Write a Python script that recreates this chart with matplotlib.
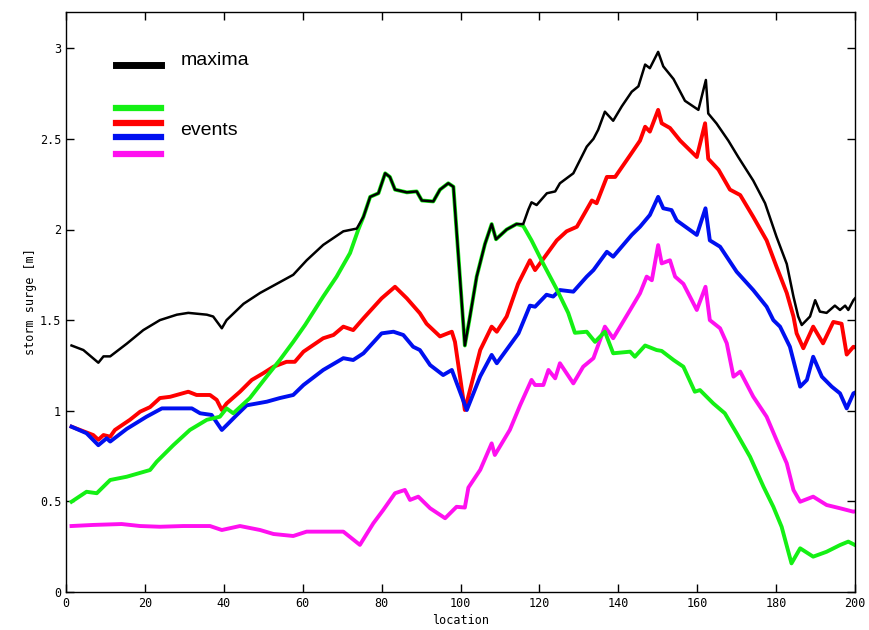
#!/usr/bin/env python

import numpy as np
import matplotlib.pyplot as plt
from matplotlib.lines import Line2D

plt.rcParams["font.family"] = "DejaVu Sans Mono"
plt.rcParams["font.size"] = 8

# maxima over all events
max_x = [1.4, 4.4, 8.2, 9.5, 11.2, 15.4, 19.6, 23.8, 28.1, 31, 35.7, 37.3, 39.5, 40.7, 45, 49.2,
         53.4, 57.6, 61, 65.2, 70.3, 73.7, 75.4, 77.1, 79.2, 80.9, 82.1, 83.4, 86.4, 88.9, 90.2,
         93.1, 94.8, 96.9, 98.2, 101.1, 102.4, 104.1, 106.2, 107.9, 109, 111.7, 114.2, 115.9,
         117.2, 118, 119.3, 121.9, 124, 125.2, 128.6, 132, 133.7, 134.9, 136.6, 138.7, 140.9,
         143.4, 145.1, 146.8, 148, 150.1, 151.4, 154, 156.9, 160.3, 162.2, 162.8, 164.9, 167.9,
         170.4, 174.2, 177.2, 180.1, 182.7, 184.4, 185.6, 186.5, 188.6, 189.9, 191.1, 192.8,
         194.9, 196.2, 197.5, 198.3, 199.6, 200]
max_y = [1.36, 1.335, 1.265, 1.30, 1.30, 1.37, 1.445, 1.50, 1.53, 1.54, 1.53, 1.52, 1.455, 1.50,
         1.59, 1.65, 1.70, 1.75, 1.83, 1.915, 1.99, 2.005, 2.07, 2.18, 2.20, 2.31, 2.29, 2.22,
         2.205, 2.21, 2.16, 2.155, 2.22, 2.255, 2.236, 1.36, 1.52, 1.74, 1.92, 2.03, 1.946, 2.00,
         2.03, 2.03, 2.11, 2.15, 2.135, 2.20, 2.21, 2.255, 2.31, 2.457, 2.50, 2.55, 2.65, 2.60,
         2.68, 2.76, 2.79, 2.91, 2.89, 2.98, 2.90, 2.83, 2.71, 2.66, 2.825, 2.64, 2.585, 2.49,
         2.40, 2.27, 2.145, 1.96, 1.81, 1.63, 1.52, 1.473, 1.52, 1.61, 1.547, 1.54, 1.58, 1.556,
         1.58, 1.556, 1.61, 1.62]

# event 1 (green)
ev1_x = [1.4, 5.2, 7.8, 11.2, 15.4, 21.3, 23, 27.2, 31.4, 35.7, 39, 40.7, 42.4, 46.6, 50.9, 54.2,
         57.6, 60.6, 65.2, 68.6, 72, 74.1, 75.4, 77.1, 79.2, 80.9, 82.1, 83.4, 86.4, 88.9, 90.2,
         93.1, 94.8, 96.9, 98.2, 101.1, 102.4, 104.1, 106.2, 107.9, 109, 111.7, 114.2, 115.9,
         118, 121, 124.4, 127.3, 129, 132, 134.1, 136.6, 138.7, 143, 144.2, 146.8, 149.7, 151,
         154, 156.5, 159.4, 160.7, 164.1, 167, 170, 173.4, 176.8, 179.3, 181.4, 183.9, 186.1,
         189.4, 192.8, 196.2, 198.3, 200]
ev1_y = [0.498, 0.553, 0.545, 0.618, 0.636, 0.673, 0.719, 0.81, 0.894, 0.95, 0.967, 1.013, 0.986,
         1.07, 1.19, 1.28, 1.38, 1.473, 1.63, 1.74, 1.87, 2.0, 2.07, 2.18, 2.20, 2.31, 2.29, 2.22,
         2.205, 2.21, 2.16, 2.155, 2.22, 2.255, 2.236, 1.36, 1.52, 1.74, 1.92, 2.03, 1.946, 2.00,
         2.03, 2.02, 1.94, 1.81, 1.67, 1.54, 1.43, 1.436, 1.38, 1.436, 1.317, 1.326, 1.298, 1.36,
         1.335, 1.33, 1.28, 1.243, 1.105, 1.114, 1.04, 0.986, 0.876, 0.746, 0.581, 0.47, 0.36,
         0.158, 0.241, 0.195, 0.222, 0.259, 0.278, 0.259]

# event 2 (red)
ev2_x = [1.4, 6.9, 8.2, 9.5, 11.2, 12.4, 16.2, 18.8, 21.3, 23.8, 26.4, 31, 33.1, 36.5, 38.2, 39.5,
         40.7, 44.1, 47.1, 50, 52.6, 55.9, 58, 60.2, 65.2, 67.8, 70.3, 72.8, 75.4, 80, 83.4, 86.4,
         89.7, 91.4, 94.8, 97.8, 98.6, 101.1, 105, 107.9, 109.2, 111.7, 114.6, 117.6, 118.9,
         121.4, 124.4, 126.9, 129.5, 133.3, 134.5, 137.1, 139.2, 143, 145.5, 146.8, 148, 150.1,
         151, 153.1, 155.7, 159.9, 162, 162.8, 165.4, 168.3, 170.9, 174.2, 177.6, 180.1, 182.7,
         184.4, 185.2, 186.9, 189.4, 191.9, 194.5, 196.6, 197.9, 199.6, 200]
ev2_y = [0.912, 0.866, 0.84, 0.866, 0.857, 0.894, 0.95, 0.995, 1.02, 1.07, 1.077, 1.105, 1.087,
         1.087, 1.06, 1.004, 1.04, 1.105, 1.17, 1.207, 1.243, 1.27, 1.27, 1.326, 1.40, 1.418,
         1.464, 1.445, 1.51, 1.62, 1.684, 1.62, 1.538, 1.48, 1.41, 1.436, 1.38, 1.004, 1.335,
         1.464, 1.436, 1.52, 1.70, 1.83, 1.776, 1.85, 1.94, 1.99, 2.015, 2.16, 2.145, 2.29, 2.29,
         2.41, 2.49, 2.567, 2.54, 2.66, 2.586, 2.56, 2.49, 2.40, 2.586, 2.39, 2.33, 2.22, 2.19,
         2.07, 1.94, 1.795, 1.65, 1.52, 1.427, 1.345, 1.464, 1.372, 1.49, 1.48, 1.31, 1.353, 1.35]

# event 3 (blue)
ev3_x = [1.4, 5.2, 8.2, 10.3, 11.2, 15.4, 20.4, 24.3, 28.9, 31.9, 34, 36.9, 39.5, 40.7, 43.3,
         45.8, 50.9, 54.2, 57.6, 60.2, 65.2, 70.3, 72.8, 75.4, 80, 83, 85.5, 88, 89.7, 92.3, 95.6,
         97.8, 101.6, 105, 107.9, 109.2, 114.7, 117.6, 118.9, 121.8, 123.5, 125.2, 128.6, 132,
         133.7, 137.1, 138.7, 143.4, 145.5, 148, 150.1, 151.4, 153.5, 154.8, 159.9, 162.1, 163.2,
         165.8, 170, 174.2, 177.6, 179.3, 181, 183.5, 184.8, 186.1, 187.8, 189.4, 191.6, 194.1,
         196.2, 197.9, 199.6, 200]
ev3_y = [0.912, 0.876, 0.81, 0.848, 0.83, 0.90, 0.967, 1.013, 1.013, 1.013, 0.986, 0.977, 0.894,
         0.92, 0.977, 1.03, 1.05, 1.07, 1.087, 1.142, 1.225, 1.29, 1.28, 1.317, 1.427, 1.436,
         1.418, 1.353, 1.335, 1.252, 1.197, 1.225, 1.004, 1.19, 1.308, 1.262, 1.427, 1.58, 1.574,
         1.64, 1.63, 1.666, 1.657, 1.74, 1.776, 1.877, 1.85, 1.97, 2.015, 2.08, 2.18, 2.117,
         2.107, 2.05, 1.97, 2.117, 1.94, 1.905, 1.767, 1.666, 1.574, 1.50, 1.464, 1.353, 1.243,
         1.133, 1.17, 1.298, 1.188, 1.133, 1.096, 1.013, 1.096, 1.10]

# event 4 (magenta)
ev4_x = [1.4, 6.9, 14.1, 18.8, 23.8, 29.7, 36.5, 39.5, 44.1, 49.2, 52.6, 57.6, 61, 66.1, 70.3,
         74.5, 77.9, 80.4, 83.4, 85.9, 87.2, 89.3, 92.3, 96.1, 99, 101.1, 102, 105, 107.9, 108.7,
         112.5, 115.1, 118, 118.9, 121, 122.3, 124, 125.2, 128.6, 131.1, 133.7, 136.6, 138.7,
         143, 145.5, 147.2, 148.5, 150.1, 151, 153.1, 154.4, 156.5, 159.9, 162.1, 163.2, 165.8,
         167.5, 169.2, 170.9, 174.2, 177.6, 180.1, 182.7, 184.4, 186.1, 189.4, 192.8, 196.2,
         199.6, 200]
ev4_y = [0.364, 0.37, 0.375, 0.364, 0.36, 0.364, 0.364, 0.342, 0.364, 0.342, 0.32, 0.309, 0.333,
         0.333, 0.333, 0.26, 0.379, 0.452, 0.545, 0.563, 0.508, 0.526, 0.462, 0.407, 0.47, 0.466,
         0.576, 0.674, 0.82, 0.756, 0.894, 1.03, 1.17, 1.142, 1.142, 1.225, 1.179, 1.262, 1.151,
         1.243, 1.29, 1.464, 1.40, 1.556, 1.648, 1.74, 1.72, 1.914, 1.813, 1.83, 1.74, 1.70,
         1.556, 1.684, 1.50, 1.455, 1.372, 1.188, 1.216, 1.078, 0.967, 0.839, 0.71, 0.563, 0.498,
         0.526, 0.48, 0.462, 0.443, 0.445]

GREEN = "#14f014"
RED = "#ff0000"
BLUE = "#0010f0"
MAGENTA = "#ff10f0"

fig = plt.figure(figsize=(8.7, 6.3), dpi=100)
ax = fig.add_axes([66/870, 38/630, 789/870, 580/630])

ax.plot(ev2_x, ev2_y, color=RED, lw=2.8)
ax.plot(ev3_x, ev3_y, color=BLUE, lw=2.8)
ax.plot(ev4_x, ev4_y, color=MAGENTA, lw=2.8)
ax.plot(ev1_x, ev1_y, color=GREEN, lw=2.8)
ax.plot(max_x, max_y, color="black", lw=1.8)

# hand-made legend like the original
tr = ax.transAxes
ax.add_line(Line2D([0.063, 0.120], [0.909, 0.909], transform=tr, color="black", lw=5))
for yy, c in zip([0.834, 0.809, 0.784, 0.755], [GREEN, RED, BLUE, MAGENTA]):
    ax.add_line(Line2D([0.063, 0.120], [yy, yy], transform=tr, color=c, lw=4.5))
ax.text(0.145, 0.917, "maxima", transform=tr, fontsize=14, family="Liberation Sans", va="center")
ax.text(0.145, 0.795, "events", transform=tr, fontsize=14, family="Liberation Sans", va="center")

ax.set_xlim(0, 200)
ax.set_ylim(0, 3.2)
ax.set_xticks(np.arange(0, 201, 20))
ax.set_yticks(np.arange(0, 3.01, 0.5))
ax.set_yticklabels(["0", "0.5", "1", "1.5", "2", "2.5", "3"])
ax.tick_params(direction="in", length=6, width=1, top=True, right=True, labelsize=8.5)
for s in ax.spines.values():
    s.set_linewidth(1)
ax.set_xlabel("location", fontsize=8.5, labelpad=3)
ax.set_ylabel("storm surge [m]", fontsize=8.5, labelpad=2)

fig.savefig("out.png", dpi=100)
